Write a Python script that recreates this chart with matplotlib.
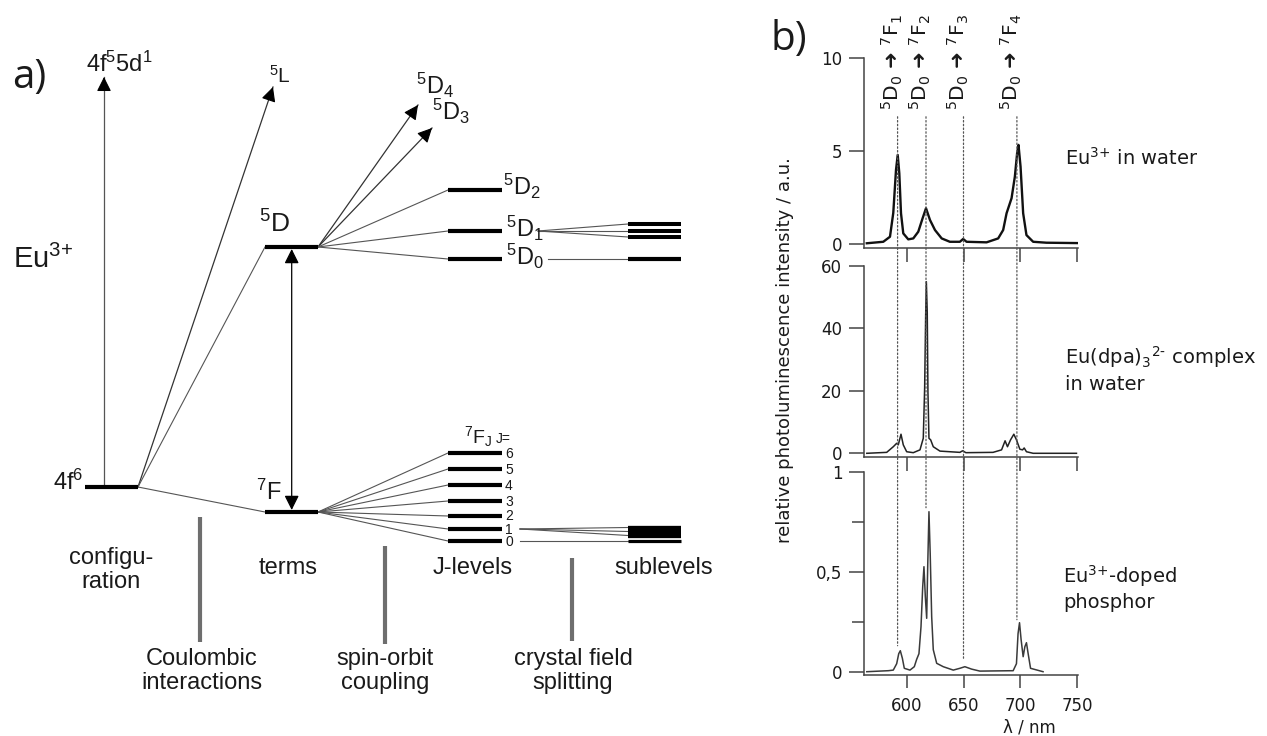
import numpy as np
import matplotlib
matplotlib.use("Agg")
import matplotlib.pyplot as plt
from matplotlib.patches import ConnectionPatch

plt.rcParams["font.family"] = "Liberation Sans"
plt.rcParams["mathtext.fontset"] = "custom"
plt.rcParams["mathtext.rm"] = "Liberation Sans"
plt.rcParams["mathtext.it"] = "Liberation Sans:italic"
plt.rcParams["mathtext.bf"] = "Liberation Sans:bold"

# ── Energy level diagram (a), positions in pixels of the 1267x736 canvas ──
col_config = (85, 138)
col_terms = (265, 318)
col_jlev = (448, 502)
col_sub = (628, 681)

E_config = 487
E_5D = 247
E_7F = 512
E_5DJ = [259, 231, 190]                       # J = 0, 1, 2
E_7FJ = [541, 529, 516, 501, 485, 469, 453]   # J = 0 .. 6
E_sub_5D1 = [224, 231, 237]
E_sub_7F1 = [527.5, 531.5, 535.5]

tip_4f5d = (104, 77)
tip_5L = (273, 87)
tip_5D4 = (418, 105)
tip_5D3 = (432, 128)

# ── Emission spectra (b) ─────────────────────────────────────
wl_water = [564.9, 579.4, 585.3, 588.2, 590.6, 592.1, 593.5, 595.0, 597.0, 601.4,
            605.8, 610.2, 614.0, 617.0, 620.5, 624.9, 630.8, 638.0, 646.8, 649.7,
            652.7, 670.3, 680.5, 684.9, 687.9, 692.3, 695.2, 697.2, 698.4, 700.2,
            702.5, 705.4, 711.3, 723.0, 750.0]
i_water = [0.04, 0.12, 0.39, 1.67, 3.98, 4.78, 3.80, 1.65, 0.57, 0.25,
           0.30, 0.66, 1.38, 1.92, 1.29, 0.75, 0.30, 0.12, 0.12, 0.27,
           0.12, 0.09, 0.30, 0.75, 1.65, 2.46, 3.62, 4.88, 5.32, 4.16,
           1.65, 0.48, 0.12, 0.07, 0.05]

wl_dpa = [564.9, 582.4, 588.2, 591.2, 592.6, 595.0, 597.0, 600.0, 605.8, 611.7,
          614.6, 615.8, 616.7, 617.3, 618.1, 618.7, 619.6, 621.1, 623.4, 629.3,
          646.8, 649.2, 652.1, 676.0, 683.5, 686.6, 688.7, 691.4, 694.3, 696.6,
          699.6, 702.0, 703.4, 705.4, 711.3, 749.4]
i_dpa = [0.0, 0.3, 2.1, 3.2, 2.7, 6.1, 2.7, 0.5, 0.2, 1.1,
         4.8, 20.8, 44.0, 54.9, 45.0, 19.7, 4.8, 4.3, 2.1, 0.7,
         0.3, 0.8, 0.2, 0.3, 1.1, 4.0, 2.1, 4.3, 6.1, 4.3,
         1.3, 1.1, 1.7, 0.5, 0.0, 0.0]

wl_phos = [564.9, 583.8, 588.2, 591.2, 593.0, 594.4, 596.2, 597.9, 602.9, 606.7,
           608.8, 610.8, 612.6, 614.1, 615.2, 616.4, 617.6, 618.5, 619.6, 620.7,
           622.0, 623.4, 626.4, 632.2, 641.0, 646.8, 651.2, 657.1, 664.4, 693.7,
           696.6, 698.0, 699.3, 700.7, 702.5, 704.0, 705.4, 706.9, 709.0, 720.0]
i_phos = [0.0, 0.005, 0.008, 0.04, 0.09, 0.105, 0.067, 0.017, 0.008, 0.025,
          0.062, 0.09, 0.225, 0.425, 0.525, 0.375, 0.267, 0.525, 0.80, 0.59,
          0.275, 0.11, 0.042, 0.025, 0.008, 0.017, 0.025, 0.013, 0.003, 0.005,
          0.04, 0.19, 0.245, 0.16, 0.075, 0.125, 0.145, 0.09, 0.017, 0.0]

trans_wl = [592, 617, 650, 697]
trans_labels = ["1", "2", "3", "4"]
trans_top = 6.83                      # top-panel units
trans_bottom = [0.13, 0.82, 0.06, 0.26]  # bottom-panel units

W, H = 1267, 736
fig = plt.figure(figsize=(W / 100, H / 100), dpi=100)
fig.patch.set_facecolor("white")

# overlay in pixel coordinates for the diagram
ax0 = fig.add_axes([0, 0, 1, 1])
ax0.set_xlim(0, W)
ax0.set_ylim(H, 0)
ax0.set_axis_off()

K = "black"
G = "#555555"


def bar(x, y, lw=3.0):
    ax0.plot(x, [y, y], color=K, lw=lw, solid_capstyle="butt", zorder=3)


def fan(p0, p1):
    ax0.plot([p0[0], p1[0]], [p0[1], p1[1]], color=G, lw=0.8, zorder=2)


def arrow(p0, p1, col=G):
    ax0.plot([p0[0], p1[0]], [p0[1], p1[1]], color=col, lw=0.9, zorder=2)
    d = np.array(p1, float) - np.array(p0, float)
    d = d / np.hypot(*d)
    back = np.array(p1) - 12 * d
    ax0.annotate("", xy=p1, xytext=tuple(back),
                 arrowprops=dict(arrowstyle="-|>", color=K, lw=0.8,
                                 mutation_scale=22, shrinkA=0, shrinkB=0))


# levels
bar(col_config, E_config)
bar(col_terms, E_5D)
bar(col_terms, E_7F)
for y in E_5DJ:
    bar(col_jlev, y)
for y in E_7FJ:
    bar(col_jlev, y)
for y in E_sub_5D1:
    bar(col_sub, y, lw=2.9)
bar(col_sub, E_5DJ[0])
for y in E_sub_7F1:
    bar(col_sub, y, lw=3.1)
bar(col_sub, E_7FJ[0], lw=2.3)

# arrows from the configuration / terms
arrow((tip_4f5d[0], E_config), tip_4f5d)
arrow((col_config[1], E_config), tip_5L, col="#333333")
arrow((col_terms[1], E_5D), tip_5D4, col="#333333")
arrow((col_terms[1], E_5D), tip_5D3, col="#333333")
fan((col_config[1], E_config), (col_terms[0], E_5D))
fan((col_config[1], E_config), (col_terms[0], E_7F))
for y in E_5DJ:
    fan((col_terms[1], E_5D), (col_jlev[0], y))
for y in E_7FJ:
    fan((col_terms[1], E_7F), (col_jlev[0], y))
for y in E_sub_5D1:
    fan((538, E_5DJ[1]), (col_sub[0], y))
fan((548, E_5DJ[0]), (col_sub[0], E_5DJ[0]))
for y in E_sub_7F1:
    fan((520, E_7FJ[1]), (col_sub[0], y))
fan((520, E_7FJ[0]), (col_sub[0], E_7FJ[0]))

# double arrow 5D <-> 7F
ax0.annotate("", xy=(291.7, E_5D + 2), xytext=(291.7, E_7F - 2),
             arrowprops=dict(arrowstyle="<|-|>", color=K, lw=0.9,
                             mutation_scale=22, shrinkA=0, shrinkB=0))

# gray separators
for x, y0, y1 in [(200, 517, 642), (385, 546, 644), (572, 558, 641)]:
    ax0.plot([x, x], [y0, y1], color="#6e6e6e", lw=3, solid_capstyle="butt")

# diagram texts
txt = dict(color="#1a1a1a", va="baseline")
ax0.text(12, 88, "a)", fontsize=29, family="Open Sans", **txt)
ax0.text(86, 72, r"4f$^5$5d$^1$", fontsize=17, **txt)
ax0.text(269, 83, r"$^5$L", fontsize=15, **txt)
ax0.text(13, 268, r"Eu$^{3\text{+}}$", fontsize=21, **txt)
ax0.text(259, 233, r"$^5$D", fontsize=19, **txt)
ax0.text(416, 94, r"$^5$D$_4$", fontsize=17, **txt)
ax0.text(432, 120, r"$^5$D$_3$", fontsize=17, **txt)
ax0.text(503, 195, r"$^5$D$_2$", fontsize=17, **txt)
ax0.text(506, 237, r"$^5$D$_1$", fontsize=17, **txt)
ax0.text(506, 265, r"$^5$D$_0$", fontsize=17, **txt)
ax0.text(83, 490, r"4f$^6$", fontsize=17, ha="right", **txt)
ax0.text(256, 500, r"$^7$F", fontsize=17, **txt)
ax0.text(464, 443, r"$^7$F$_\mathrm{J}$", fontsize=14, **txt)
ax0.text(496, 443, "J=", fontsize=10, **txt)
for j, y in enumerate(E_7FJ):
    ax0.text(505, y + 0.5, str(j), fontsize=10, va="center", color="#1a1a1a")

cat = dict(fontsize=17, ha="center", va="center", color="#1a1a1a", linespacing=1.1)
ax0.text(111, 570, "configu-\nration", **cat)
ax0.text(288, 568, "terms", **cat)
ax0.text(473, 568, "J-levels", **cat)
ax0.text(664, 568, "sublevels", **cat)
ax0.text(202, 671, "Coulombic\ninteractions", **cat)
ax0.text(385, 671, "spin-orbit\ncoupling", **cat)
ax0.text(573, 671, "crystal field\nsplitting", **cat)

# ── spectra panels ───────────────────────────────────────────
ax0.text(771, 50, "b)", fontsize=29, family="Open Sans", **txt)

x0, x1 = 864.3, 1077.7
boxes = [(57.7, 248.3), (265.7, 457.3), (471.7, 675.0)]
axes = []
for top, bot in boxes:
    a = fig.add_axes([x0 / W, 1 - bot / H, (x1 - x0) / W, (bot - top) / H])
    a.patch.set_alpha(0)
    axes.append(a)
ax_t, ax_m, ax_b = axes

SP = "#444444"
DV = dict(family="DejaVu Sans", math_fontfamily="dejavusans")
for a in axes:
    a.set_xlim(562.7, 750.5)
    for s in ["top", "right"]:
        a.spines[s].set_visible(False)
    for s in ["left", "bottom"]:
        a.spines[s].set_color(SP)
        a.spines[s].set_linewidth(1.1)
    a.set_xticks([600, 650, 700, 750])
    a.tick_params(axis="both", which="both", direction="out", color=SP,
                  width=1.1, labelsize=12, labelcolor="#1a1a1a")
    a.tick_params(axis="y", length=10.8, pad=5)
    a.tick_params(axis="x", length=10, pad=7)

ax_t.plot(wl_water, i_water, color="#111111", lw=1.7)
ax_t.set_ylim(-0.23, 10)
ax_t.set_yticks([0, 5, 10])
ax_t.tick_params(axis="x", labelbottom=False)

ax_m.plot(wl_dpa, i_dpa, color="#222222", lw=1.1)
ax_m.set_ylim(-1.28, 60)
ax_m.set_yticks([0, 20, 40, 60])
ax_m.tick_params(axis="x", labelbottom=False)

ax_b.plot(wl_phos, i_phos, color="#3a3a3a", lw=1.1)
ax_b.set_ylim(-0.0165, 1)
ax_b.set_yticks([0, 0.5, 1])
ax_b.set_yticklabels(["0", "0,5", "1"])
ax_b.set_yticks([0.25, 0.75], minor=True)
ax_b.tick_params(axis="y", which="minor", length=9, width=1.1, color=SP)
ax_b.tick_params(axis="x", length=9)
for a in axes:
    for lab in a.get_xticklabels() + a.get_yticklabels():
        lab.set_family("DejaVu Sans")

ax_b.set_xlabel("λ / nm", fontsize=12, family="DejaVu Sans", color="#1a1a1a")
ax_b.xaxis.set_label_coords(0.772, -0.215)
ax_m.set_ylabel("relative photoluminescence intensity / a.u.", fontsize=13,
                family="DejaVu Sans", color="#1a1a1a")
ax_m.yaxis.set_label_coords(-0.33, 0.56)

# dotted transition markers spanning the three panels
for wl, yb in zip(trans_wl, trans_bottom):
    con = ConnectionPatch(xyA=(wl, trans_top), coordsA="data", axesA=ax_t,
                          xyB=(wl, yb), coordsB="data", axesB=ax_b,
                          color="#555555", lw=0.9, linestyle=(0, (1.2, 1.8)))
    fig.add_artist(con)

for wl, n in zip(trans_wl, trans_labels):
    ax_t.text(wl - 4.5, 7.2, r"$^5$D$_0$ ➜ $^7$F$_%s$" % n, rotation=90,
              ha="center", va="bottom", fontsize=14.5, color="#1a1a1a",
              clip_on=False, **DV)

lab = dict(fontsize=14, color="#1a1a1a", ha="left", va="center", **DV)
ax0.text(1065, 158, r"Eu$^{3\text{+}}$ in water", **lab)
ax0.text(1065, 357, r"Eu(dpa)$_3$$^{2\text{-}}$ complex", **lab)
ax0.text(1065, 385, "in water", **lab)
ax0.text(1063, 576, r"Eu$^{3\text{+}}$-doped", **lab)
ax0.text(1063, 603, "phosphor", **lab)

plt.savefig("out.png", dpi=100, facecolor="white")
plt.close()
